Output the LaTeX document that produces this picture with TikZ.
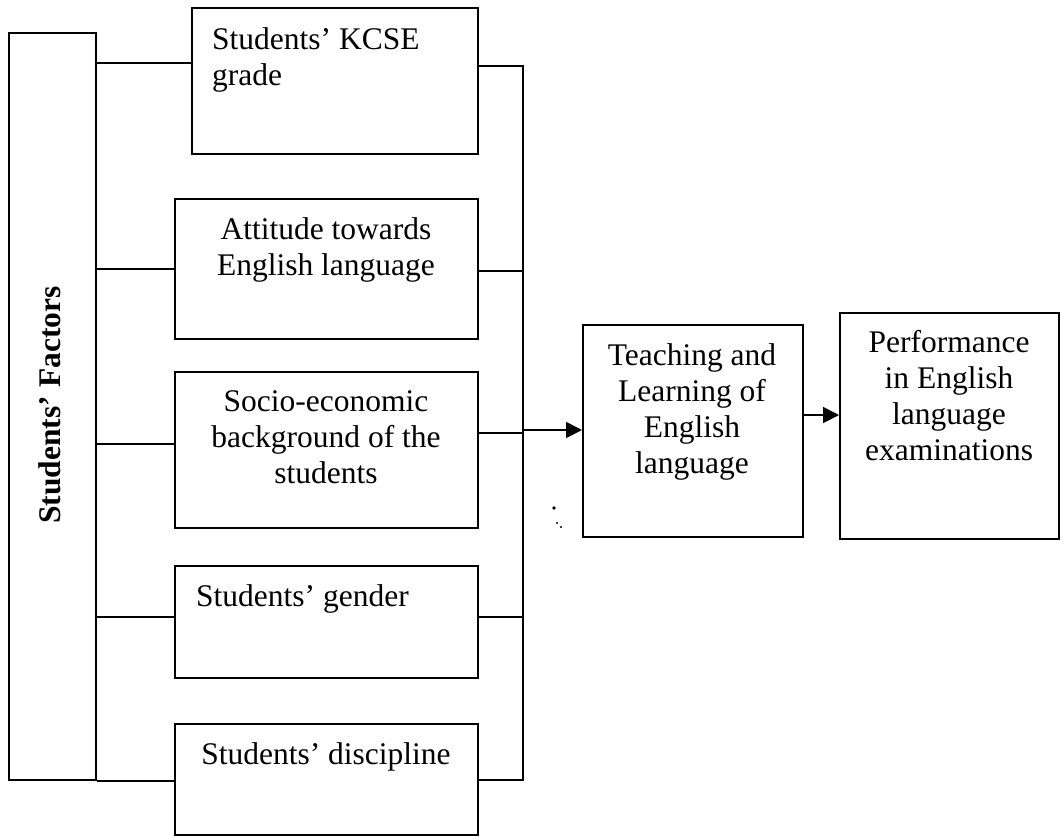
\documentclass[tikz,border=0pt]{standalone}
\usepackage{fontspec}
\setmainfont{Liberation Serif}
\usetikzlibrary{arrows.meta}
\begin{document}
\begin{tikzpicture}[x=1pt,y=-1pt,
  frame/.style={draw, line width=1.8pt, inner sep=0pt, anchor=north west},
  lbl/.style={inner sep=0pt, font=\fontsize{31.5}{36}\selectfont, align=center},
  link/.style={line width=1.8pt},
  arr/.style={line width=1.8pt, -{Triangle[length=16pt,width=16pt]}}]
\useasboundingbox[fill=white] (0,0) rectangle (1064,839);
% left tall box
\node[frame, minimum width=87pt, minimum height=747pt] (L) at (8,32) {};
\node[inner sep=0pt, font=\fontsize{31.5}{36}\selectfont\bfseries, rotate=90, anchor=base] (Lt) at (60,405) {Students’ Factors};
% factor boxes
\node[frame, minimum width=286pt, minimum height=146pt] (b1) at (191,7) {};
\node[frame, minimum width=303pt, minimum height=140pt] (b2) at (174,198) {};
\node[frame, minimum width=303pt, minimum height=156pt] (b3) at (174,371) {};
\node[frame, minimum width=303pt, minimum height=112pt] (b4) at (174,565) {};
\node[frame, minimum width=303pt, minimum height=111pt] (b5) at (174,723) {};
\node[lbl, align=left, anchor=north west] (t1) at (212,27) {Students’ KCSE\\grade};
\node[lbl, anchor=north] (t2) at (326,217) {Attitude towards\\English language};
\node[lbl, anchor=north] (t3) at (326,390) {Socio-economic\\background of the\\students};
\node[lbl, anchor=north west] (t4) at (196,584) {Students’ gender};
\node[lbl, anchor=north] (t5) at (326,742) {Students’ discipline};
% right boxes
\node[frame, minimum width=220pt, minimum height=212pt] (T) at (582,324) {};
\node[frame, minimum width=219pt, minimum height=226pt] (P) at (839,312) {};
\node[lbl, anchor=north] (tT) at (692,343) {Teaching and\\Learning of\\English\\language};
\node[lbl, anchor=north] (tP) at (949,330) {Performance\\in English\\language\\examinations};
% left connectors
\draw[link] (L.east |- 0,63) -- (b1.west |- 0,63);
\draw[link] (L.east |- 0,269) -- (b2.west |- 0,269);
\draw[link] (L.east |- 0,444) -- (b3.west |- 0,444);
\draw[link] (L.east |- 0,617) -- (b4.west |- 0,617);
\draw[link] (L.south east) -- (b5.west |- L.south);
% right bus
\coordinate (bt) at (523,66);
\coordinate (bb) at (523,780);
\draw[link] (b1.east |- bt) -- (bt) -- (bb) -- (b5.east |- bb);
\draw[link] (b2.east |- 0,271) -- (bt |- 0,271);
\draw[link] (b3.east |- 0,433) -- (bt |- 0,433);
\draw[link] (b4.east |- 0,617) -- (bt |- 0,617);
\draw[arr] (bt |- 0,430) -- (T.west |- 0,430);
\draw[arr] (T.east |- 0,415) -- (P.west |- 0,415);
% stray marks
\fill (554,508) circle (1.8pt);
\fill (557,523) circle (1.1pt);
\fill (561,527) circle (1.1pt);
\end{tikzpicture}
\end{document}
